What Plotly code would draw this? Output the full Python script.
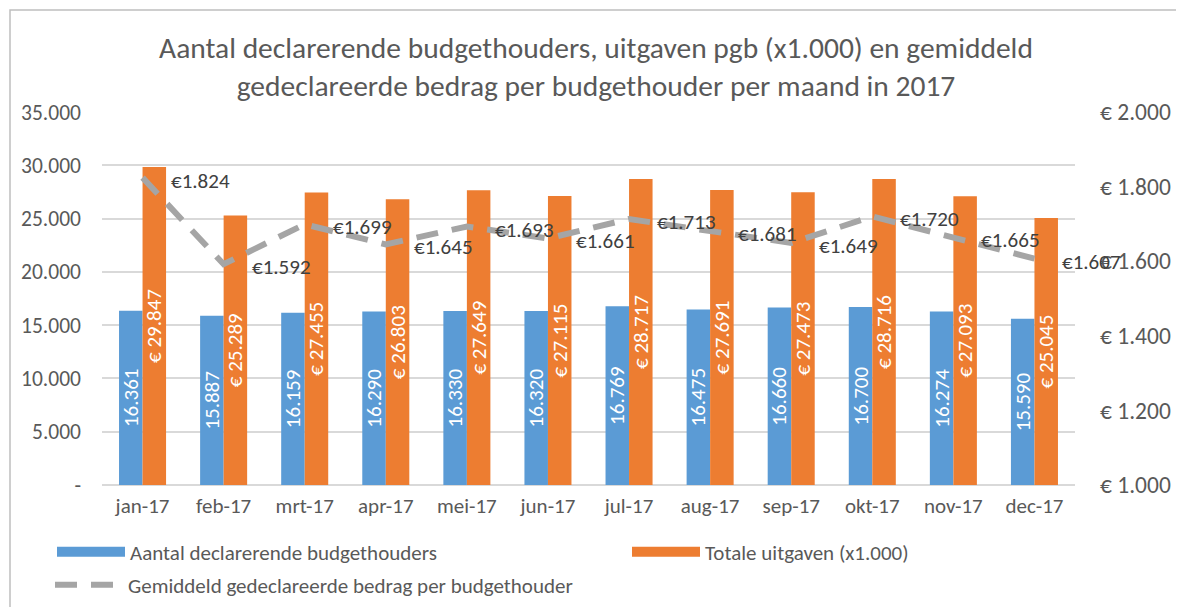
import plotly.graph_objects as go

months = ["jan-17", "feb-17", "mrt-17", "apr-17", "mei-17", "jun-17",
          "jul-17", "aug-17", "sep-17", "okt-17", "nov-17", "dec-17"]
aantal = [16361, 15887, 16159, 16290, 16330, 16320, 16769, 16475, 16660, 16700, 16274, 15590]
uitgaven = [29847, 25289, 27455, 26803, 27649, 27115, 28717, 27691, 27473, 28716, 27093, 25045]
gemiddeld = [1824, 1592, 1699, 1645, 1693, 1661, 1713, 1681, 1649, 1720, 1665, 1607]

left_ticks = [0, 5000, 10000, 15000, 20000, 25000, 30000, 35000]
left_ticktext = ["-", "5.000", "10.000", "15.000", "20.000", "25.000", "30.000", "35.000"]
right_ticks = [1000, 1200, 1400, 1600, 1800, 2000]
right_ticktext = ["€ 1.000", "€ 1.200", "€ 1.400", "€ 1.600", "€ 1.800", "€ 2.000"]

title_text = ("Aantal declarerende budgethouders, uitgaven pgb (x1.000) en gemiddeld<br>"
              "gedeclareerde bedrag per budgethouder per maand in 2017")

FONT = "Carlito, Liberation Sans, Arial, sans-serif"
GREY = "#595959"
BLUE = "#5b9bd5"
ORANGE = "#ed7d31"

# page body has an 8px margin; work in page pixel coordinates
OFF = 8
W, H = 1184 - OFF, 607 - OFF
PL, PR, PT, PB = 102, 1075, 112, 485          # plot area in page pixels
L, R, T, B = PL - OFF, (OFF + W) - PR, PT - OFF, (OFF + H) - PB
pw, ph = W - L - R, H - T - B


def px(X):
    return (X - PL) / pw


def py(Y):
    return (PB - Y) / ph


fig = go.Figure()
fig.add_trace(go.Bar(
    x=months, y=aantal, name="Aantal declarerende budgethouders",
    marker=dict(color=BLUE, line=dict(width=0)),
    texttemplate="%{y:,d}", textposition="inside", insidetextanchor="middle",
    textangle=-90, textfont=dict(color="white", size=21, family=FONT),
    constraintext="none", showlegend=False,
))
fig.add_trace(go.Bar(
    x=months, y=uitgaven, name="Totale uitgaven (x1.000)",
    marker=dict(color=ORANGE, line=dict(width=0)),
    texttemplate="€ %{y:,d}", textposition="inside", insidetextanchor="middle",
    textangle=-90, textfont=dict(color="white", size=21, family=FONT),
    constraintext="none", showlegend=False,
))
fig.add_trace(go.Scatter(
    x=months, y=gemiddeld, name="Gemiddeld gedeclareerde bedrag per budgethouder",
    yaxis="y2", mode="lines",
    line=dict(color="#a5a5a5", width=6, dash="22px,14px"),
    legend="legend3",
))
# legend-only entries giving wide rectangular swatches like the original
fig.add_trace(go.Scatter(x=[None], y=[None], mode="lines", name="Aantal declarerende budgethouders",
                         line=dict(color=BLUE, width=14), legend="legend", hoverinfo="skip"))
fig.add_trace(go.Scatter(x=[None], y=[None], mode="lines", name="Totale uitgaven (x1.000)",
                         line=dict(color=ORANGE, width=14), legend="legend2", hoverinfo="skip"))

annotations = [
    dict(x=m, y=v, xref="x", yref="y2", text="€{:,}".format(v).replace(",", "."),
         showarrow=False, xanchor="left", yanchor="middle", xshift=26, yshift=-3,
         font=dict(size=21, color="#404040", family=FONT))
    for m, v in zip(months, gemiddeld)
]

legend_common = dict(orientation="v", xanchor="left", yanchor="middle",
                     font=dict(size=21, color=GREY, family=FONT), itemwidth=68,
                     bgcolor="rgba(0,0,0,0)")

fig.update_layout(
    width=W, height=H,
    margin=dict(l=L, r=R, t=T, b=B, autoexpand=False),
    paper_bgcolor="white", plot_bgcolor="white",
    separators=",.",
    font=dict(family=FONT, color=GREY, size=21),
    title=dict(text=title_text, x=0.5, xanchor="center", y=1 - 50 / H, yanchor="middle",
               font=dict(size=29.5, color=GREY, family=FONT)),
    barmode="group", bargap=0.42, bargroupgap=0,
    uniformtext=dict(minsize=21, mode="show"),
    xaxis=dict(range=[-0.5, len(months) - 0.5], autorange=False,
               showgrid=False, showline=False, tickfont=dict(size=21, color=GREY),
               ticks="", ticklabelstandoff=6),
    yaxis=dict(range=[0, 35000], tickvals=left_ticks, ticktext=left_ticktext,
               showgrid=True, gridcolor="#d9d9d9", gridwidth=1.5, zeroline=True,
               zerolinecolor="#d9d9d9", zerolinewidth=1.5, showline=False,
               tickfont=dict(size=21.5, color=GREY), ticklabelstandoff=20),
    yaxis2=dict(range=[1000, 2000], tickvals=right_ticks, ticktext=right_ticktext,
                overlaying="y", side="right", showgrid=False, zeroline=False, showline=False,
                tickfont=dict(size=23.5, color=GREY), ticklabelstandoff=24),
    legend=dict(x=px(52), y=py(552), **legend_common),
    legend2=dict(x=px(627), y=py(552), **legend_common),
    legend3=dict(x=px(50), y=py(585), **legend_common),
    showlegend=True,
    annotations=annotations,
)
fig.add_shape(type="rect", xref="paper", yref="paper",
              x0=px(10), x1=px(1220), y0=py(650), y1=py(10),
              line=dict(color="#bfbfbf", width=1.5), fillcolor="rgba(0,0,0,0)", layer="below")

fig.write_html("out.html")
